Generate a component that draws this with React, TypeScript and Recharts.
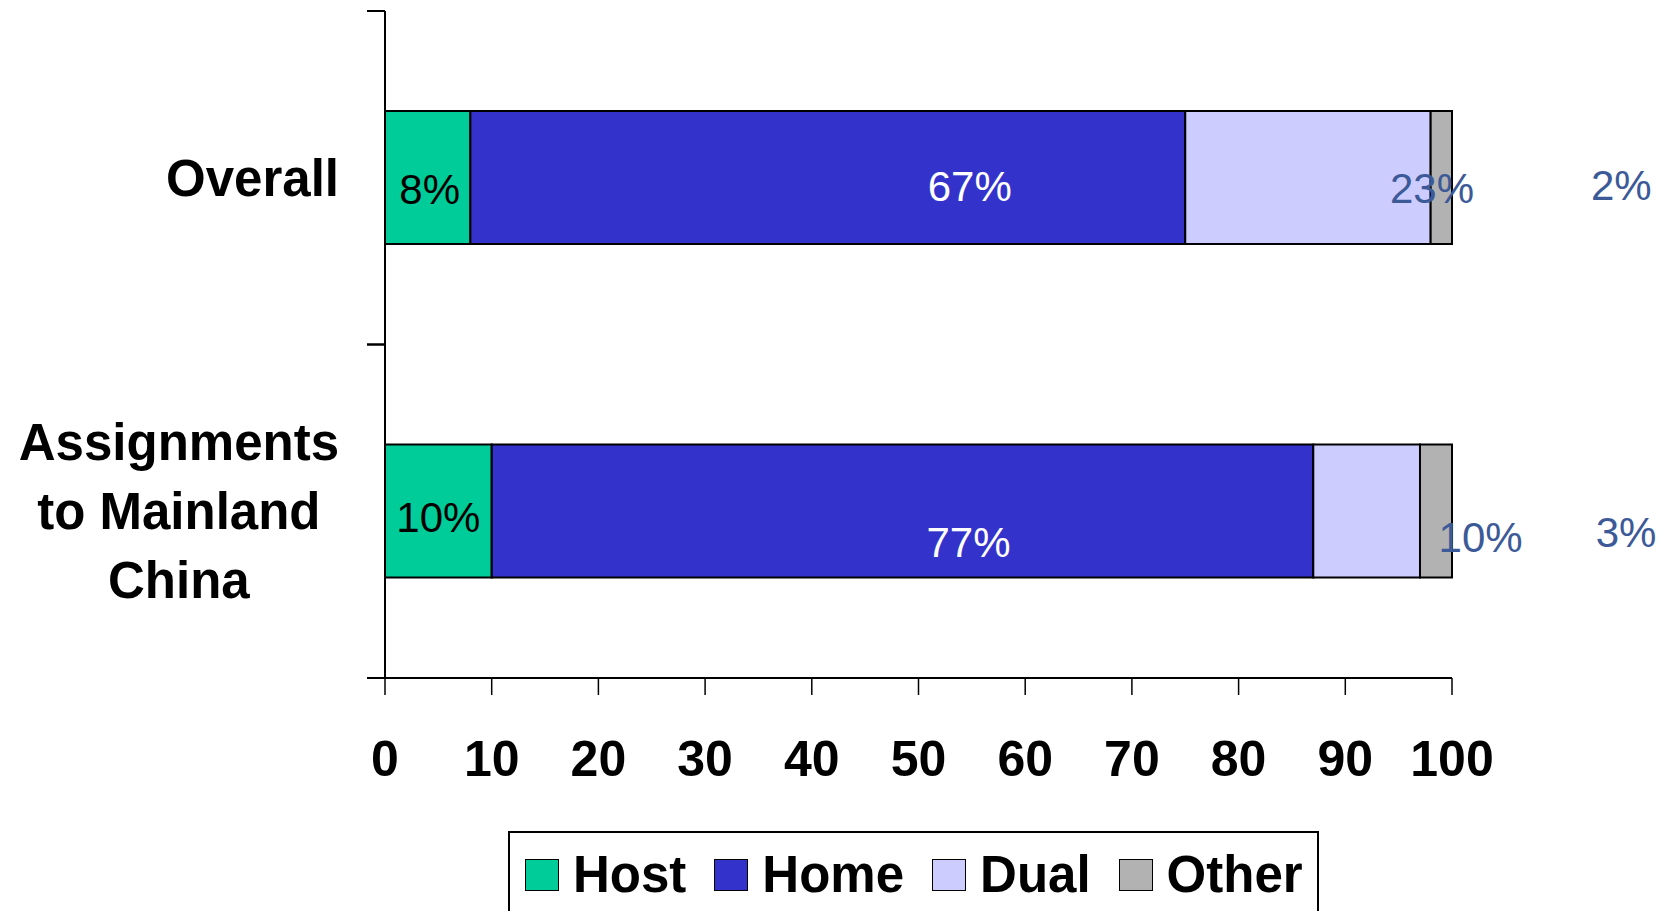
import React from "react";
import { BarChart, Bar, XAxis, YAxis, Legend, LabelList } from "recharts";

const CATEGORIES = ["Overall", "Assignments to Mainland China"];
const CATEGORY_LINES = [["Overall"], ["Assignments", "to Mainland", "China"]];
const HOST = [8, 10];
const HOME = [67, 77];
const DUAL = [23, 10];
const OTHER = [2, 3];
const X_TICKS = [0, 10, 20, 30, 40, 50, 60, 70, 80, 90, 100];
const SERIES = [
  { key: "host", name: "Host", color: "#00CC99" },
  { key: "home", name: "Home", color: "#3333CC" },
  { key: "dual", name: "Dual", color: "#CCCCFF" },
  { key: "other", name: "Other", color: "#B2B2B2" },
];

const data = CATEGORIES.map((category, i) => ({
  category,
  host: HOST[i],
  home: HOME[i],
  dual: DUAL[i],
  other: OTHER[i],
}));

const FONT = "'Liberation Sans', Arial, Helvetica, sans-serif";
const LABEL_BLUE = "#3D5A98";
const CAT_TICK_MARGIN = 46;
const CAT_TICK_LEN = 18;

// the value labels in the source sit off their segments, nudged per row
const LABEL_NUDGE: Record<string, { dx: number[]; dy: number[]; fill: string }> = {
  host: { dx: [2, 0], dy: [11, 6], fill: "#000000" },
  home: { dx: [142, 66], dy: [8, 31], fill: "#ffffff" },
  dual: { dx: [124, 114], dy: [10, 26], fill: LABEL_BLUE },
  other: { dx: [180, 190], dy: [7, 21], fill: LABEL_BLUE },
};

let ctx: CanvasRenderingContext2D | null = null;
function measureBold(text: string, size: number) {
  if (!ctx) ctx = document.createElement("canvas").getContext("2d");
  if (!ctx) return text.length * size * 0.6;
  ctx.font = `bold ${size}px ${FONT}`;
  return ctx.measureText(text).width;
}

// category label plus the tick marks on the band edges (Excel style)
function CategoryTick({ x, y, payload }: any) {
  const idx = CATEGORIES.indexOf(payload.value);
  const lines = CATEGORY_LINES[idx] ?? [String(payload.value)];
  const w = Math.max(...lines.map((l) => measureBold(l, 51)));
  const cx = x - w / 2;
  const axisX = x + CAT_TICK_MARGIN;
  const half = payload.offset ?? 0;
  return (
    <g>
      {[y - half, y + half].map((ty, i) => (
        <line
          key={`t${i}`}
          x1={axisX - CAT_TICK_LEN}
          x2={axisX}
          y1={ty}
          y2={ty}
          stroke="#000"
          strokeWidth={2}
        />
      ))}
      {lines.map((line, i) => (
        <text
          key={i}
          x={cx}
          y={y + 18 + (i - (lines.length - 1) / 2) * 69}
          textAnchor="middle"
          fontSize={51}
          fontWeight="bold"
          fontFamily={FONT}
          fill="#000"
        >
          {line}
        </text>
      ))}
    </g>
  );
}

function makeLabel(key: string) {
  return (props: any) => {
    const vb = props.viewBox && props.viewBox.width !== undefined ? props.viewBox : props;
    const { x, y, width, height } = vb;
    const index = props.index ?? 0;
    const n = LABEL_NUDGE[key];
    const cx = x + width / 2 + n.dx[index];
    const cy = y + height / 2 + n.dy[index];
    return (
      <text
        x={cx}
        y={cy + 15}
        textAnchor="middle"
        fontSize={42}
        fontFamily={FONT}
        fill={n.fill}
      >
        {`${props.value}%`}
      </text>
    );
  };
}

function LegendBox() {
  return (
    <div
      style={{
        boxSizing: "border-box",
        width: 811,
        height: 110,
        border: "2px solid #000",
        background: "#fff",
        paddingLeft: 15,
        paddingTop: 17,
        display: "flex",
        alignItems: "flex-start",
        fontFamily: FONT,
      }}
    >
      {SERIES.map((s, i) => (
        <div
          key={s.key}
          style={{
            display: "flex",
            alignItems: "center",
            height: 50,
            marginRight: i < SERIES.length - 1 ? 28 : 0,
          }}
        >
          <span
            style={{
              display: "inline-block",
              boxSizing: "border-box",
              width: 34,
              height: 32,
              background: s.color,
              border: "1.5px solid #000",
              marginRight: 14,
            }}
          />
          <span style={{ fontSize: 51, fontWeight: "bold", lineHeight: "50px", color: "#000" }}>
            {s.name}
          </span>
        </div>
      ))}
    </div>
  );
}

export default function App() {
  return (
    <div style={{ width: 1668, height: 911, overflow: "hidden", background: "#fff" }}>
      <style>{"body{margin:0}"}</style>
      <BarChart
        width={1668}
        height={911}
        data={data}
        layout="vertical"
        margin={{ top: 11, right: 216, bottom: 133, left: 0 }}
        barCategoryGap="30%"
      >
        <XAxis
          type="number"
          domain={[0, 100]}
          ticks={X_TICKS}
          interval={0}
          height={100}
          tickSize={17}
          tickMargin={45}
          tick={{ fontSize: 50, fontWeight: "bold", fill: "#000", fontFamily: FONT }}
          axisLine={{ stroke: "#000", strokeWidth: 2 }}
          tickLine={{ stroke: "#000", strokeWidth: 1.5 }}
        />
        <YAxis
          type="category"
          dataKey="category"
          width={385}
          interval={0}
          axisLine={{ stroke: "#000", strokeWidth: 2 }}
          tickLine={false}
          tickSize={0}
          tickMargin={CAT_TICK_MARGIN}
          tick={<CategoryTick />}
        />
        <Legend
          layout="horizontal"
          verticalAlign="middle"
          align="center"
          wrapperStyle={{ top: 831, left: 508, width: 811, height: 110 }}
          content={() => <LegendBox />}
        />
        {SERIES.map((s) => (
          <Bar
            key={s.key}
            dataKey={s.key}
            name={s.name}
            stackId="a"
            fill={s.color}
            stroke="#000"
            strokeWidth={2}
            isAnimationActive={false}
          >
            <LabelList dataKey={s.key} content={makeLabel(s.key)} />
          </Bar>
        ))}
      </BarChart>
    </div>
  );
}
